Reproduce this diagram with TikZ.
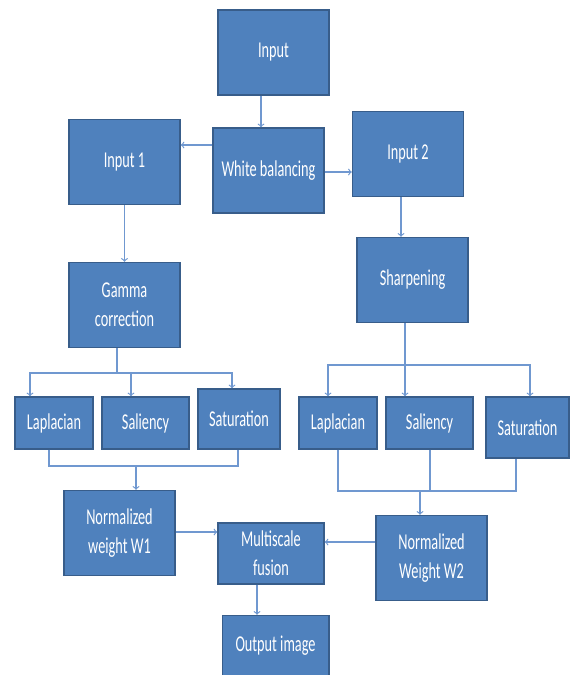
\documentclass[tikz,border=0pt]{standalone}
\usepackage{fontspec}
\setmainfont{Carlito}[FakeStretch=0.63]
\usepackage{tikz}
\usetikzlibrary{calc}
\usetikzlibrary{positioning}
\definecolor{boxblue}{RGB}{79,129,189}
\definecolor{boxedge}{RGB}{56,93,138}
\definecolor{linkblue}{RGB}{112,152,208}
\tikzset{
block/.style={rectangle,draw=boxedge,fill=boxblue,line width=1pt,text=white,align=center,inner sep=2pt,font=\fontsize{17}{22}\selectfont,anchor=center},
bigblock/.style={block,minimum width=83.25pt,minimum height=63.75pt},
midblock/.style={block,minimum width=80pt,minimum height=45.75pt},
smallblock/.style={block,minimum height=39pt},
line/.style={linkblue,line width=0.9pt},
arr/.style={line,->}
}
\begin{document}
\begin{tikzpicture}[x=0.75pt,y=-0.75pt]
    \useasboundingbox (0,0) rectangle (569,675);
    %
    \node[bigblock](in) at (273.5, 52.5) {Input};
    \node[bigblock](wb) at (268.5, 170.5) {White balancing};
    \node[bigblock](in1) at (124.5, 162) {Input 1};
    \node[bigblock](in2) at (408, 154) {Input 2};
    \node[bigblock](gamma) at (124.5, 305) {Gamma\\correction};
    \node[bigblock](sharp) at (412.5, 280) {Sharpening};
    %
    \node[smallblock, minimum width=58.5pt](lap1) at (54, 423) {Laplacian};
    \node[smallblock, minimum width=65.25pt](sal1) at (145.5, 423) {Saliency};
    \node[smallblock, minimum width=61.5pt, minimum height=45pt](sat1) at (239, 419) {Saturation};
    \node[smallblock, minimum width=58.5pt](lap2) at (338, 423) {Laplacian};
    \node[smallblock, minimum width=65.25pt](sal2) at (429.5, 423) {Saliency};
    \node[smallblock, minimum width=62.25pt, minimum height=45.75pt](sat2) at (527.5, 427.5) {Saturation};
    %
    \node[bigblock](nw1) at (119.5, 533) {Normalized\\weight W1};
    \node[midblock, minimum width=79.5pt](mf) at (271, 553.5) {Multiscale\\fusion};
    \node[bigblock](nw2) at (431.5, 558) {Normalized\\Weight W2};
    \node[midblock](out) at (275.5, 646) {Output image};
    %
    \coordinate (split1) at (117, 373);
    \coordinate (split2) at (405, 365);
    \coordinate (merge1) at (136, 466);
    \coordinate (merge2) at (420, 491);
    %
    \draw[arr] ($(in.south)+(-12.5,0)$) -- ($(wb.north)+(-7.5,0)$);
    \draw[arr] ($(wb.west)+(0,-25.5)$) -- ($(in1.east)+(0,-17)$);
    \draw[arr] ($(wb.east)+(0,1.5)$) -- ($(in2.west)+(0,18)$);
    \draw[arr] (in1.south) -- (gamma.north);
    \draw[arr] ($(in2.south)+(-7,0)$) -- ($(sharp.north)+(-11.5,0)$);
    %
    \draw[line] ($(gamma.south)+(-7.5,0)$) -- (split1);
    \foreach \n/\dx in {lap1/-24,sal1/-14.5,sat1/-7}
    \draw[arr] (split1) -| ($(\n.north)+(\dx,0)$);
    \draw[line] ($(sharp.south)+(-7.5,0)$) -- (split2);
    \foreach \n/\dx in {lap2/-10,sal2/-24.5,sat2/2.5}
    \draw[arr] (split2) -| ($(\n.north)+(\dx,0)$);
    %
    \draw[line] ($(lap1.south)+(-5,0)$) |- (merge1) -| ($(sat1.south)+(-1,0)$);
    \draw[arr] (merge1) -- ($(nw1.north)+(16.5,0)$);
    \draw[line] (lap2.south) |- (merge2) -| ($(sat2.south)+(-11.5,0)$);
    \draw[line] ($(sal2.south)+(0.5,0)$) -- ($(sal2.south |- merge2)+(0.5,0)$);
    \draw[arr] (merge2) -- ($(nw2.north)+(-11.5,0)$);
    %
    \draw[arr] ($(nw1.east)+(0,-1)$) -- ($(mf.west)+(0,-21.5)$);
    \draw[arr] ($(nw2.west)+(0,-16)$) -- ($(mf.east)+(0,-11.5)$);
    \draw[arr] ($(mf.south)+(-14,0)$) -- ($(out.north)+(-18.5,0)$);
  \end{tikzpicture}
\end{document}
